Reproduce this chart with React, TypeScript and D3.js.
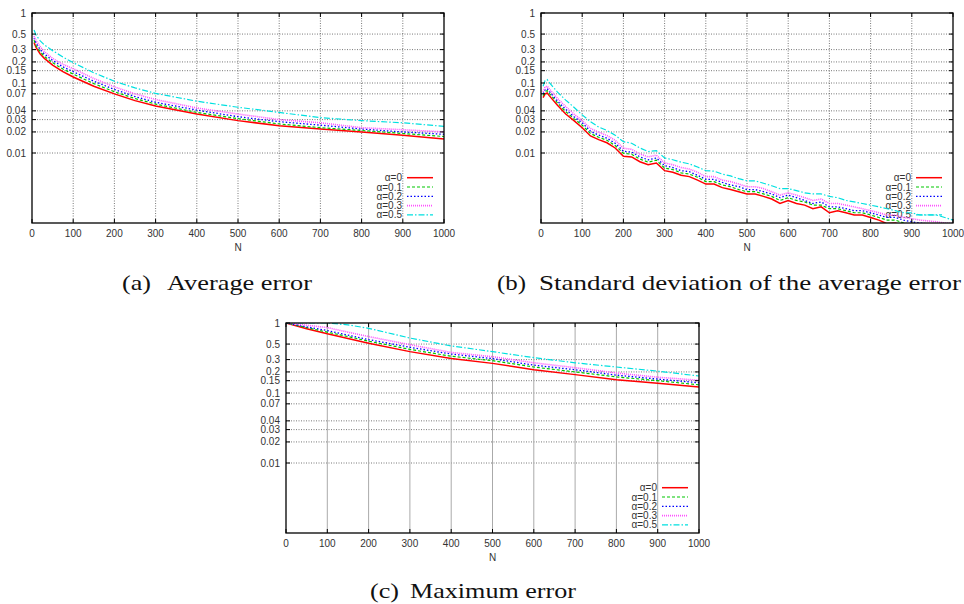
import * as d3 from 'd3';

// three gnuplot-style log panels: average error, std dev, maximum error

const labels = ['α=0', 'α=0.1', 'α=0.2', 'α=0.3', 'α=0.5'];
const colors = ['#ff0000', '#00c800', '#0000ff', '#ff50ff', '#00e0e0'];
const dashes = ['', '3,2', '1.5,2', '1,1', '6,2,1.5,2'];
const widths = [1.5, 1.2, 1.3, 1.6, 1.2];

const xTicks = [0, 100, 200, 300, 400, 500, 600, 700, 800, 900, 1000];
const yTicks = [1, 0.5, 0.3, 0.2, 0.15, 0.1, 0.07, 0.04, 0.03, 0.02, 0.01];
const yTickLabels = ['1', '0.5', '0.3', '0.2', '0.15', '0.1', '0.07', '0.04', '0.03', '0.02', '0.01'];

// (a) average error
const avgN = [5, 10, 20, 30, 50, 75, 100, 150, 200, 250, 300, 400, 500, 600, 700, 800, 900, 1000];
const avg0 = [0.38, 0.32, 0.26, 0.225, 0.18, 0.145, 0.122, 0.09, 0.07, 0.056, 0.047, 0.036, 0.029, 0.0245, 0.022, 0.02, 0.018, 0.0158];
const avg1 = [0.41, 0.34, 0.28, 0.24, 0.195, 0.158, 0.134, 0.098, 0.075, 0.06, 0.05, 0.038, 0.031, 0.026, 0.023, 0.021, 0.019, 0.0172];
const avg2 = [0.44, 0.37, 0.3, 0.26, 0.21, 0.17, 0.145, 0.106, 0.081, 0.064, 0.053, 0.041, 0.033, 0.028, 0.025, 0.022, 0.02, 0.0185];
const avg3 = [0.47, 0.4, 0.33, 0.28, 0.225, 0.185, 0.16, 0.116, 0.088, 0.07, 0.058, 0.044, 0.036, 0.03, 0.027, 0.023, 0.0215, 0.02];
const avg5 = [0.57, 0.48, 0.4, 0.35, 0.29, 0.235, 0.195, 0.14, 0.106, 0.085, 0.071, 0.055, 0.045, 0.038, 0.032, 0.029, 0.027, 0.024];

// (b) standard deviation of the average error
const sdN = [5, 10, 15, 20, 40, 60, 80, 100, 120, 140, 160, 180, 200, 220, 240, 260, 280, 300, 320, 340, 360, 380, 400, 420, 440, 460, 480, 500,
  520, 540, 560, 580, 600, 620, 640, 660, 680, 700, 720, 740, 760, 780, 800, 820, 840, 860, 880, 900, 920, 940, 960, 980, 1000];
const sd0 = [0.062, 0.07, 0.072, 0.066, 0.048, 0.036, 0.029, 0.023, 0.0175, 0.0155, 0.014, 0.0118, 0.009, 0.0088, 0.0075, 0.0068, 0.0072, 0.0056,
  0.0053, 0.0048, 0.0046, 0.0041, 0.0036, 0.0036, 0.0032, 0.003, 0.0028, 0.0026, 0.0026, 0.0024, 0.0022, 0.0019, 0.0021, 0.0019, 0.0018, 0.0016,
  0.0017, 0.0014, 0.0015, 0.0014, 0.0013, 0.0013, 0.0012, 0.0011, 0.00098, 0.001, 0.00092, 0.00088, 0.00085, 0.00082, 0.0008, 0.00078, 0.00075];
const sd1 = [0.066, 0.075, 0.078, 0.071, 0.052, 0.039, 0.031, 0.025, 0.019, 0.0168, 0.0152, 0.0128, 0.0099, 0.0096, 0.0082, 0.0074, 0.0079, 0.0061,
  0.0058, 0.0052, 0.005, 0.0045, 0.0039, 0.0039, 0.0035, 0.0033, 0.003, 0.0028, 0.0028, 0.0026, 0.0024, 0.0021, 0.0023, 0.0021, 0.002, 0.0018,
  0.0018, 0.0016, 0.0016, 0.0015, 0.0014, 0.0014, 0.0013, 0.0012, 0.0011, 0.0011, 0.001, 0.00096, 0.00093, 0.0009, 0.00088, 0.00085, 0.00083];
const sd2 = [0.07, 0.08, 0.083, 0.076, 0.055, 0.042, 0.033, 0.027, 0.0205, 0.018, 0.0163, 0.0138, 0.0106, 0.0103, 0.0088, 0.008, 0.0085, 0.0066,
  0.0062, 0.0056, 0.0054, 0.0048, 0.0042, 0.0042, 0.0038, 0.0035, 0.0033, 0.003, 0.003, 0.0028, 0.0026, 0.0023, 0.0025, 0.0023, 0.0021, 0.0019,
  0.002, 0.0017, 0.0017, 0.0016, 0.0015, 0.0015, 0.0014, 0.0013, 0.0012, 0.0012, 0.0011, 0.00104, 0.001, 0.00097, 0.00095, 0.00092, 0.0009];
const sd3 = [0.075, 0.088, 0.09, 0.083, 0.06, 0.046, 0.036, 0.029, 0.0225, 0.0198, 0.0178, 0.0152, 0.0117, 0.0113, 0.0097, 0.0088, 0.0093, 0.0072,
  0.0068, 0.0062, 0.0059, 0.0053, 0.0046, 0.0046, 0.0041, 0.0039, 0.0036, 0.0033, 0.0033, 0.0031, 0.0028, 0.0025, 0.0027, 0.0025, 0.0023, 0.0021,
  0.0022, 0.0019, 0.0019, 0.0018, 0.0017, 0.0016, 0.0015, 0.0014, 0.0013, 0.0013, 0.0012, 0.00115, 0.0011, 0.00107, 0.00104, 0.001, 0.00098];
const sd5 = [0.09, 0.108, 0.112, 0.102, 0.074, 0.057, 0.045, 0.035, 0.028, 0.0235, 0.021, 0.018, 0.0145, 0.0138, 0.0118, 0.0105, 0.0108, 0.0085,
  0.008, 0.0074, 0.007, 0.0063, 0.0056, 0.0055, 0.005, 0.0047, 0.0043, 0.004, 0.004, 0.0037, 0.0034, 0.0031, 0.0031, 0.0029, 0.0027, 0.0026,
  0.0026, 0.0024, 0.0023, 0.0021, 0.002, 0.0019, 0.0018, 0.0017, 0.0016, 0.0015, 0.0014, 0.0014, 0.0013, 0.0013, 0.0013, 0.0012, 0.0011];

// (c) maximum error
const maxN = [0, 50, 100, 150, 200, 300, 400, 500, 600, 700, 800, 900, 1000];
const max0 = [1, 0.83, 0.7, 0.6, 0.515, 0.39, 0.31, 0.265, 0.215, 0.183, 0.155, 0.138, 0.122];
const max1 = [1, 0.86, 0.74, 0.64, 0.55, 0.42, 0.335, 0.29, 0.235, 0.2, 0.17, 0.15, 0.131];
const max2 = [1, 0.88, 0.78, 0.67, 0.58, 0.45, 0.36, 0.31, 0.25, 0.215, 0.18, 0.158, 0.14];
const max3 = [1, 0.93, 0.86, 0.74, 0.64, 0.49, 0.38, 0.33, 0.27, 0.23, 0.193, 0.168, 0.152];
const max5 = [1, 1, 1, 0.94, 0.84, 0.61, 0.47, 0.39, 0.32, 0.27, 0.235, 0.205, 0.175];

type Box = { l: number; r: number; t: number; b: number };
type PanelProps = { id: string; box: Box; xs: number[]; series: number[][]; solidV?: boolean };

const SANS = '"Liberation Sans", Arial, sans-serif';
const SERIF = '"Liberation Serif", "Times New Roman", serif';

const Panel = ({ id, box, xs, series, solidV }: PanelProps) => {
  const x = d3.scaleLinear().domain([0, 1000]).range([box.l, box.r]);
  const y = d3.scaleLog().domain([0.001, 1]).range([box.b, box.t]);
  const lineBuilder = d3
    .line<number>()
    .x((_, i) => x(xs[i]))
    .y((d) => y(d));

  return (
    <g>
      <defs>
        <clipPath id={'clip-' + id}>
          <rect x={box.l} y={box.t} width={box.r - box.l} height={box.b - box.t} />
        </clipPath>
      </defs>
      {/* grid */}
      {yTicks.slice(1).map((t) => (
        <line key={'hy' + t} x1={box.l} x2={box.r} y1={y(t)} y2={y(t)} stroke="#555" strokeWidth={0.8} strokeDasharray="1,1.5" />
      ))}
      {xTicks.slice(1, -1).map((t) => (
        <line
          key={'vx' + t}
          x1={x(t)}
          x2={x(t)}
          y1={box.t}
          y2={box.b}
          stroke={solidV ? '#aaa' : '#555'}
          strokeWidth={solidV ? 1 : 0.8}
          strokeDasharray={solidV ? undefined : '1,1.5'}
        />
      ))}
      {/* legend */}
      {labels.map((lab, i) => {
        const ly = box.t + 164.7 + i * 9.3;
        return (
          <g key={lab}>
            <text x={box.r - 42} y={ly + 3.5} textAnchor="end" fontFamily={SANS} fontSize={10} fill="#333">
              {lab}
            </text>
            <line x1={box.r - 37} x2={box.r - 11} y1={ly} y2={ly} stroke={colors[i]} strokeWidth={widths[i]} strokeDasharray={dashes[i] || undefined} />
          </g>
        );
      })}
      {/* data */}
      <g clipPath={`url(#clip-${id})`}>
        {series.map((s, i) => (
          <path key={i} d={lineBuilder(s) || ''} fill="none" stroke={colors[i]} strokeWidth={widths[i]} strokeDasharray={dashes[i] || undefined} />
        ))}
      </g>
      {/* ticks + labels */}
      {yTicks.map((t, i) => (
        <g key={'ty' + t}>
          <line x1={box.l} x2={box.l + 4} y1={y(t)} y2={y(t)} stroke="#000" />
          <line x1={box.r - 4} x2={box.r} y1={y(t)} y2={y(t)} stroke="#000" />
          <text x={box.l - 6} y={y(t) + 3.5} textAnchor="end" fontFamily={SANS} fontSize={10} fill="#333">
            {yTickLabels[i]}
          </text>
        </g>
      ))}
      {xTicks.map((t) => (
        <g key={'tx' + t}>
          <line x1={x(t)} x2={x(t)} y1={box.b} y2={box.b - 4} stroke="#000" />
          <line x1={x(t)} x2={x(t)} y1={box.t} y2={box.t + 4} stroke="#000" />
          <text x={x(t)} y={box.b + 14} textAnchor="middle" fontFamily={SANS} fontSize={10} fill="#333">
            {t}
          </text>
        </g>
      ))}
      <text x={(box.l + box.r) / 2} y={box.b + 28} textAnchor="middle" fontFamily={SANS} fontSize={10} fill="#333">
        N
      </text>
      <rect x={box.l} y={box.t} width={box.r - box.l} height={box.b - box.t} fill="none" stroke="#000" strokeWidth={1.3} />
    </g>
  );
};

const Caption = ({ x, x2, end, y, tag, text }: { x: number; x2: number; end: number; y: number; tag: string; text: string }) => (
  <g fontFamily={SERIF} fontSize={21} fill="#111">
    <text x={x} y={y} textLength={29} lengthAdjust="spacingAndGlyphs">{tag}</text>
    <text x={x2} y={y} textLength={end - x2} lengthAdjust="spacingAndGlyphs">
      {text}
    </text>
  </g>
);

export default function App() {
  return (
    <svg width={964} height={604} style={{ position: 'absolute', left: 0, top: 0, background: '#fff' }}>
      <rect width={964} height={604} fill="#fff" />
      <Panel id="a" box={{ l: 32, r: 444, t: 13, b: 223 }} xs={avgN} series={[avg0, avg1, avg2, avg3, avg5]} />
      <Panel id="b" box={{ l: 541, r: 953, t: 13, b: 223 }} xs={sdN} series={[sd0, sd1, sd2, sd3, sd5]} />
      <Panel id="c" box={{ l: 286, r: 699, t: 323, b: 533 }} xs={maxN} series={[max0, max1, max2, max3, max5]} solidV />
      <Caption x={122} x2={167} end={312} y={290} tag="(a)" text="Average error" />
      <Caption x={497} x2={539} end={961} y={290} tag="(b)" text="Standard deviation of the average error" />
      <Caption x={370} x2={410} end={576} y={598} tag="(c)" text="Maximum error" />
    </svg>
  );
}
